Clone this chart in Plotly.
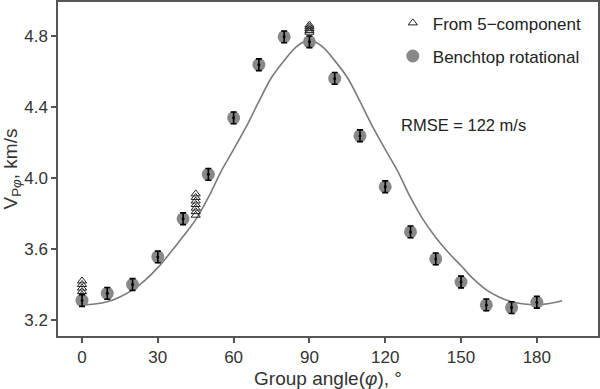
import plotly.graph_objects as go

# Benchtop rotational measurements
bench_angle = [0, 10, 20, 30, 40, 50, 60, 70, 80, 90, 100, 110, 120, 130, 140, 150, 160, 170, 180]
bench_v = [3.31, 3.35, 3.40, 3.555, 3.77, 4.02, 4.338, 4.637, 4.794, 4.766, 4.56, 4.237, 3.95,
           3.696, 3.544, 3.414, 3.285, 3.27, 3.30]
bench_err = [0.033] * len(bench_angle)

# From 5-component
tri_angle = [0, 0, 0, 0, 0, 0, 0, 45, 45, 45, 45, 45, 45, 45, 90, 90, 90, 90, 90]
tri_v = [3.30, 3.32, 3.34, 3.36, 3.38, 3.40, 3.42, 3.79, 3.81, 3.83, 3.85, 3.87, 3.89, 3.91,
         4.82, 4.83, 4.84, 4.85, 4.86]

# Fitted curve
fit_angle = [0, 5, 10, 15, 20, 25, 30, 35, 40, 45, 50, 55, 60, 65, 70, 75, 80, 85, 90,
             95, 100, 105, 110, 115, 120, 125, 130, 135, 140, 145, 150, 155, 160, 165, 170,
             175, 180, 185, 190]
fit_v = [3.285, 3.29, 3.303, 3.33, 3.37, 3.425, 3.495, 3.58, 3.67, 3.765, 3.89, 4.035, 4.16,
         4.288, 4.43, 4.565, 4.66, 4.74, 4.777, 4.74, 4.66, 4.565, 4.43, 4.288, 4.16, 4.035,
         3.89, 3.765, 3.665, 3.58, 3.505, 3.43, 3.37, 3.33, 3.303, 3.29, 3.286, 3.293, 3.308]

x_ticks = [0, 30, 60, 90, 120, 150, 180]
y_ticks = [3.2, 3.6, 4.0, 4.4, 4.8]

FONT = "Liberation Sans, Arial, sans-serif"

fig = go.Figure()

fig.add_trace(go.Scatter(
    x=fit_angle, y=fit_v, mode="lines", line=dict(color="#7a7a7a", width=1.6, shape="spline"),
    showlegend=False, hoverinfo="skip"))

fig.add_trace(go.Scatter(
    x=tri_angle, y=tri_v, mode="markers", name="From 5\u2212component",
    marker=dict(symbol="triangle-up-open", size=8, color="#222222", line=dict(width=1)),
    legendgroup="a"))

fig.add_trace(go.Scatter(
    x=bench_angle, y=bench_v, mode="markers", name="Benchtop rotational",
    marker=dict(symbol="circle", size=13, color="#888888"),
    legendgroup="b"))

fig.add_trace(go.Scatter(
    x=bench_angle, y=bench_v, mode="markers", showlegend=False,
    marker=dict(symbol="circle", size=3, color="#000000"),
    error_y=dict(type="data", array=bench_err, color="#000000", thickness=1.6, width=3)))

fig.add_annotation(xref="x", yref="y", x=((399 - 82) / 75.8) * 30,
                   y=3.2 + (320 - 125) / 71 * 0.4, text="RMSE = 122 m/s",
                   showarrow=False, xanchor="left", yanchor="middle",
                   font=dict(family=FONT, size=16.5, color="#222222"))

axis_common = dict(
    showline=True, linecolor="#555555", linewidth=1.5, mirror=True,
    ticks="outside", ticklen=5, tickwidth=1.5, tickcolor="#555555",
    showgrid=False, zeroline=False,
    tickfont=dict(family=FONT, size=17, color="#333333"),
)

fig.update_xaxes(range=[-9.5, 204.2], tickvals=x_ticks,
                 title=dict(text="Group angle(<i>φ</i>), °",
                            font=dict(family=FONT, size=19, color="#333333"), standoff=6),
                 **axis_common)
fig.update_yaxes(range=[3.11, 4.99], tickvals=y_ticks, ticktext=["3.2", "3.6", "4.0", "4.4", "4.8"],
                 title=dict(text="V<sub>P<i>φ</i></sub>, km/s",
                            font=dict(family=FONT, size=19, color="#333333"), standoff=4),
                 **axis_common)

fig.update_layout(
    width=600, height=389,
    margin=dict(l=58, r=2, t=2, b=53, autoexpand=False),
    paper_bgcolor="white", plot_bgcolor="white",
    legend=dict(x=0.62, y=0.99, xanchor="left", yanchor="top",
                font=dict(family=FONT, size=17, color="#222222"),
                tracegroupgap=8, bgcolor="rgba(0,0,0,0)", traceorder="grouped"),
)

fig.write_html("out.html", config={"displayModeBar": False},
               post_script="document.body.style.margin='0';document.body.style.overflow='hidden';")
